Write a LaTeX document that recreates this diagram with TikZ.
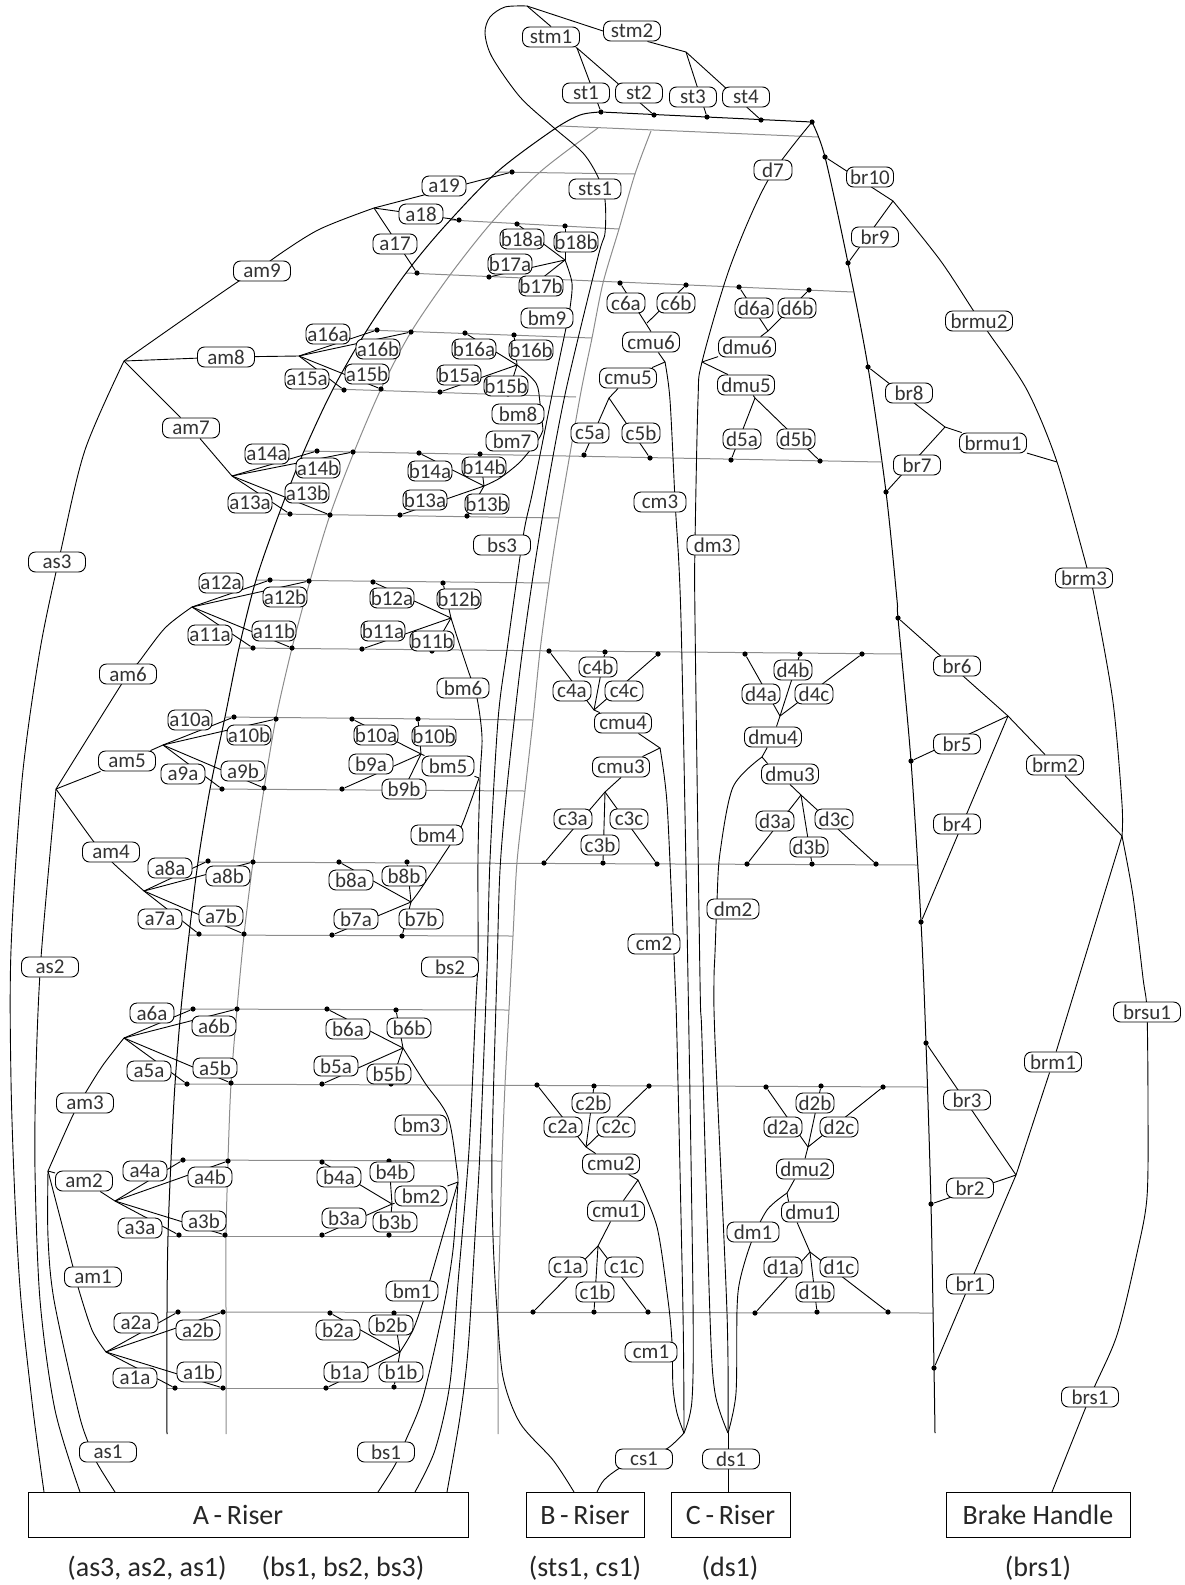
\documentclass[tikz,border=0pt]{standalone}
\usepackage{fontspec}
\setmainfont{Carlito}
\usetikzlibrary{backgrounds}
\tikzset{
  lbl/.style={draw,fill=white,rounded corners=3.5pt,line width=0.45pt,inner sep=0pt,minimum height=10pt,text=black!80,font=\fontsize{10.5}{11}\selectfont},
  pin/.style={circle,fill=black,inner sep=0pt,minimum size=2.6pt},
  wire/.style={line width=0.45pt,line join=round},
  main/.style={line width=0.5pt,line join=round},
  rowline/.style={line width=0.5pt,black!45},
  riser/.style={draw,line width=0.5pt,minimum height=22.5pt,inner sep=0pt,text=black!85,font=\fontsize{14}{16}\selectfont},
  captext/.style={inner sep=0pt,text=black!85,font=\fontsize{14}{16}\selectfont}
}
\begin{document}
\begin{tikzpicture}[x=0.5pt,y=-0.5pt]
\useasboundingbox (0,0) rectangle (1184,1585);
% junctions
\foreach \n/\x/\y in {jstm/527/6,jstm1/577/48,jstm2/686/52,jam/124/361,jam5/56/789,jam2/48/1171,
  ja17/374/208,jb18/565/260,ja16/299/356,jb16/517/365,ja14/232/476,jb14/484/486,
  ja12/192/607,jb12/451/618,ja10/163/745,jb10/421/754,ja8/144/891,jb8/411/902,
  ja6/124/1038,jb6/403/1048,ja4/115/1201,jb4/392/1204,ja2/106/1352,jb2/400/1352,
  jbm8/543/430,jbm5/479/778,jbm2/458/1182,
  jc6/647/323,jd6/768/331,jcmu6/665/362,jdmu6/702/362,jc5/609/398,jd5/755/398,
  jc4/594/710,jcmu4/660/748,jc3/605/792,jd4/780/716,jdmu4/762/757,jd3/801/795,
  jc2/586/1147,jcmu2/638/1180,jc1/598/1246,jd2/808/1147,jdmu2/787/1193,jd1/810/1252,
  jcs/684/1433,jds/728/1433,endbr/935/1433,jbot/597/1492,jhnd/1052/1492,
  jbr10/893/201,jbr8/945/427,jbrm/1057/462,jbr6/1008/716,jbrs/1122/836,jbr3/1016/1175}
  \coordinate (\n) at (\x,\y);
% points on the lines
\foreach \n/\x/\y in {st1/601/112,st2/654/115,st3/707/117,st4/761/120,d7/812/122,
  a19/512/172,a18/459/220,a17/417/273,b18a/517/224,b18b/565/226,b17a/489/277,b17b/541/279,
  a16a/377/330,a16b/411/332,b16a/465/333,b16b/514/335,a15a/344/390,a15b/381/389,b15a/440/392,b15b/508/394,
  a14a/317/451,a14b/353/452,b14a/419/453,b14b/480/454,a13a/290/514,a13b/330/515,b13a/400/515,b13b/467/516,
  a12a/270/580,a12b/309/581,b12a/373/582,b12b/443/583,a11a/253/648,a11b/292/648,b11a/362/649,b11b/432/651,
  a10a/234/717,a10b/276/719,b10a/352/719,b10b/418/719,a9a/222/789,a9b/264/788,b9a/342/789,b9b/404/789,
  a8a/208/861,a8b/253/862,b8a/339/862,b8b/407/862,a7a/199/934,a7b/244/934,b7a/332/935,b7b/402/936,
  a6a/193/1009,a6b/237/1009,b6a/327/1009,b6b/396/1010,a5a/187/1084,a5b/231/1083,b5a/322/1084,b5b/391/1084,
  a4a/183/1160,a4b/228/1161,b4a/322/1162,b4b/389/1161,a3a/179/1235,a3b/225/1235,b3a/322/1235,b3b/389/1235,
  a2a/178/1312,a2b/223/1312,b2a/330/1313,b2b/394/1313,a1a/175/1388,a1b/223/1388,b1a/326/1388,b1b/394/1387,
  c6a/620/283,c6b/686/285,d6a/739/287,d6b/809/290,c5a/584/455,c5b/650/458,d5a/731/460,d5b/820/461,
  c4a/549/651,c4b/605/652,c4c/658/654,d4a/745/654,d4b/800/654,d4c/862/654,
  c3a/544/863,c3b/603/863,c3c/657/864,d3a/747/864,d3b/812/864,d3c/876/864,
  c2a/537/1085,c2b/594/1086,c2c/649/1086,d2a/766/1087,d2b/821/1086,d2c/883/1087,
  c1a/533/1312,c1b/594/1312,c1c/648/1312,d1a/755/1313,d1b/817/1312,d1c/888/1312,
  br10/825/157,br9/848/263,br8/868/367,br7/886/492,br6/898/618,br5/911/761,br4/921/922,
  br3/926/1043,br2/931/1204,br1/934/1368}
  \node[pin] (\n-p) at (\x,\y) {};
% labels
\foreach \n/\x/\y in {a19/444/186,a18/421/214,a17/395/244,
  a16a/328/334,a16b/378/349,a15a/307/379,a15b/367/374,a14a/267/454,a14b/318/468,a13a/250/503,a13b/307/493,
  a12a/221/583,a12b/285/597,a11a/210/635,a11b/274/631,a10a/190/720,a10b/249/735,a9a/183/774,a9b/243/771,
  a8a/170/868,a8b/228/876,a7a/160/919,a7b/221/916,a6a/152/1013,a6b/214/1026,a5a/149/1071,a5b/215/1068,
  a4a/145/1171,a4b/210/1177,a3a/140/1228,a3b/204/1221,a2a/136/1323,a2b/198/1330,a1a/135/1378,a1b/199/1372,
  b18a/522/239,b18b/576/242,b17a/510/264,b17b/541/286,b16a/474/349,b16b/531/350,b15a/459/375,b15b/506/386,
  b14a/430/471,b14b/484/467,b13a/425/500,b13b/487/504,b12a/392/598,b12b/459/599,b11a/383/631,b11b/432/641,
  b10a/376/735,b10b/434/736,b9a/371/764,b9b/404/789,b8a/351/880,b8b/404/876,b7a/356/919,b7b/421/919,
  b6a/348/1029,b6b/409/1028,b5a/336/1066,b5b/389/1074,b4a/339/1177,b4b/392/1172,b3a/344/1218,b3b/395/1222,
  b2a/338/1330,b2b/391/1325,b1a/346/1372,b1b/401/1372}
  \node[lbl,minimum width=22pt] (\n) at (\x,\y) {\n};
\foreach \n/\x/\y in {d7/773/170,c6a/626/303,c6b/676/303,d6a/754/308,d6b/797/308,c5a/590/433,c5b/641/433,d5a/742/439,d5b/796/439,
  c4a/572/691,c4b/598/667,c4c/624/691,d4a/761/694,d4b/793/670,d4c/814/694,c3a/573/819,c3b/600/845,c3c/629/819,d3a/775/821,d3b/809/847,d3c/834/819,
  c2a/563/1127,c2b/591/1103,c2c/616/1127,d2a/783/1127,d2b/815/1103,d2c/839/1127,c1a/568/1267,c1b/595/1292,c1c/624/1267,d1a/783/1267,d1b/815/1292,d1c/839/1267}
  \node[lbl,minimum width=19pt] (\n) at (\x,\y) {\n};
\foreach \n/\x/\y in {stm1/551/37,stm2/632/31,as3/57/562,as2/50/967,as1/108/1452,bs3/502/545,bs2/450/967,bs1/386/1452,cs1/644/1459,ds1/731/1459,
  am9/262/271,am8/226/357,am7/191/428,am6/128/674,am5/127/761,am4/111/852,am3/85/1103,am2/84/1181,am1/93/1277,
  cmu6/651/342,cmu5/628/378,cmu4/623/723,cmu3/621/767,cmu2/611/1164,cmu1/616/1211,
  dmu6/747/347,dmu5/746/385,dmu4/773/737,dmu3/790/774,dmu2/805/1169,dmu1/810/1212,
  brm3/1084/578,brm2/1055/765,brm1/1053/1062,brs1/1090/1397}
  \node[lbl,minimum width=28.5pt] (\n) at (\x,\y) {\n};
\foreach \n/\x/\y in {sts1/595/189,bm9/547/318,bm8/518/414,bm7/512/441,bm6/463/688,bm5/448/766,bm4/437/835,bm3/421/1125,bm2/421/1196,bm1/412/1291,
  cm3/660/502,cm2/654/944,cm1/651/1352,dm3/713/545,dm2/733/909,dm1/753/1232}
  \node[lbl,minimum width=26pt] (\n) at (\x,\y) {\n};
\foreach \n/\x/\y in {st1/586/93,st2/639/93,st3/693/97,st4/746/97,br10/870/177,br9/875/237,br8/909/393,br7/917/465,br6/957/666,br5/957/744,br4/957/824,br3/967/1100,br2/970/1188,br1/970/1284}
  \node[lbl,minimum width=23.5pt] (\n) at (\x,\y) {\n};
\foreach \n/\x/\y in {brmu2/979/321,brmu1/993/443,brsu1/1147/1012}
  \node[lbl,minimum width=33.5pt] (\n) at (\x,\y) {\n};
% risers
\node[riser,minimum width=220pt] (ariser) at (248,1514.5) {A\,-\,Riser\kern10pt};
\node[riser,minimum width=59pt] (briser) at (585,1514.5) {B\,-\,Riser};
\node[riser,minimum width=59.5pt] (criser) at (730.5,1514.5) {C\,-\,Riser};
\node[riser,minimum width=92pt] (hriser) at (1038,1514.5) {Brake Handle};
\node[captext] (capa) at (147,1568) {(as3, as2, as1)};
\node[captext] (capb) at (343,1568) {(bs1, bs2, bs3)};
\node[captext] (capc) at (585,1568) {(sts1, cs1)};
\node[captext] (capd) at (730,1568) {(ds1)};
\node[captext] (cape) at (1038,1568) {(brs1)};
\begin{pgfonlayer}{background}
% grey rows and the two grey curves
\foreach \xa/\ya/\xb/\yb in {560/126/818/137,495/172/635/174,450/220/619/229,406/273/853/292,367/330/592/338,333/389/576/397,
  304/451/881/462,279/514/559/518,256/580/549/583,239/648/902/654,225/717/533/720,210/789/525/791,
  198/862/918/865,189/935/513/936,181/1009/509/1010,175/1084/927/1087,171/1160/502/1161,168/1236/500/1236,
  167/1312/933/1313,167/1388/498/1388}
  \draw[rowline] (\xa,\ya) -- (\xb,\yb);
\draw[rowline] plot[smooth] coordinates {(598,128) (540,172) (492,222) (450,275) (411,332) (381,389) (354,452) (330,515) (310,581) (292,648) (276,718) (264,789) (253,862) (244,935) (237,1009) (231,1084) (228,1160) (226,1236) (226,1312) (226,1434)};
\draw[rowline] plot[smooth] coordinates {(651,131) (635,174) (619,229) (603,283) (592,338) (580,397) (559,518) (549,583) (540,651) (533,720) (525,791) (517,862) (513,936) (509,1010) (505,1085) (502,1161) (500,1236) (498,1312) (498,1388) (498,1434)};
% leaves
\foreach \j/\g in {ja17/{a19,a18,a17},jb18/{b18a,b18b,b17a,b17b},ja16/{a16a,a16b,a15a,a15b},jb16/{b16a,b16b,b15a,b15b},
  ja14/{a14a,a14b,a13a,a13b},jb14/{b14a,b14b,b13a,b13b},ja12/{a12a,a12b,a11a,a11b},jb12/{b12a,b12b,b11a,b11b},
  ja10/{a10a,a10b,a9a,a9b},jb10/{b10a,b10b,b9a,b9b},ja8/{a8a,a8b,a7a,a7b},jb8/{b8a,b8b,b7a,b7b},
  ja6/{a6a,a6b,a5a,a5b},jb6/{b6a,b6b,b5a,b5b},ja4/{a4a,a4b,a3a,a3b},jb4/{b4a,b4b,b3a,b3b},
  ja2/{a2a,a2b,a1a,a1b},jb2/{b2a,b2b,b1a,b1b},
  jc5/{c5a,c5b},jd5/{d5a,d5b},jd6/{d6a,d6b},jc4/{c4a,c4b,c4c},jc3/{c3a,c3b,c3c},jc2/{c2a,c2b,c2c},jc1/{c1a,c1b,c1c},
  jd4/{d4a,d4b,d4c},jd3/{d3a,d3b,d3c},jd2/{d2a,d2b,d2c},jd1/{d1a,d1b,d1c},
  jbr10/{br10,br9},jbr8/{br8,br7},jbr6/{br6,br5,br4},jbr3/{br3,br2,br1},
  jstm1/{st1,st2},jstm2/{st3,st4}}
  \foreach \p in \g
    \draw[wire] (\j) -- (\p-p);
\draw[wire] (c6a-p) -- (cmu6.north);
\draw[wire] (c6b-p) -- (jc6);
% top of the canopy
\draw[main] (st1-p) -- (d7-p);
\draw[wire] (jstm) -- (stm1.north);
\draw[wire] (jstm) -- (stm2.west);
\draw[wire] (stm1) -- (jstm1);
\draw[wire] (stm2.326) -- (jstm2);
% cascades of the A and B side
\draw[wire] (jam) -- (am8) -- (ja16);
\draw[wire] (jam) -- (am7) -- (ja14);
\draw[wire] (jam5) -- (am5) -- (ja10);
\draw[wire] (jam2) -- (am2) -- (ja4);
\draw[wire] plot[smooth] coordinates {(jam) (239,281) (am9) (270,261) (318,230) (ja17)};
\draw[wire] plot[smooth] coordinates {(jam5) (128,674) (138,663) (165,628) (ja12)};
\draw[wire] plot[smooth] coordinates {(jam5) (94,842) (113,863) (ja8)};
\draw[wire] plot[smooth] coordinates {(jam2) (73,1115) (86,1092) (103,1065) (ja6)};
\draw[wire] plot[smooth] coordinates {(jam2) (73,1267) (78,1287) (92,1330) (ja2)};
\draw[wire] plot[smooth] coordinates {(jam) (85,450) (61,550) (40,650) (22,780) (11,950) (11,1080) (15,1200) (21,1300) (33,1410) (44,1492)};
\draw[wire] plot[smooth] coordinates {(jam5) (41,958) (36,1070) (35,1170) (40,1300) (55,1410) (80,1492)};
\draw[wire] plot[smooth] coordinates {(jam2) (48,1237) (54,1300) (78,1410) (88,1442) (97,1463) (115,1492)};
\draw[main] plot[smooth] coordinates {(st1-p) (580,115) (553,130) (497,172) (444,227) (406,273) (367,330) (333,389) (304,451) (279,514) (256,580) (239,648) (225,717) (210,789) (198,862) (189,935) (181,1009) (175,1084) (171,1160) (168,1236) (167,1312) (167,1434)};
\draw[wire] (jb10) -- (bm5) -- (jbm5);
\draw[wire] (jb4) -- (bm2) -- (jbm2);
\draw[wire] plot[smooth] coordinates {(jb16) (536,383) (540,403) (jbm8)};
\draw[wire] plot[smooth] coordinates {(jb14) (500,478) (520,462) (538,440) (jbm8)};
\draw[wire] plot[smooth] coordinates {(jbm5) (462,825) (450,845) (420,890) (jb8)};
\draw[wire] plot[smooth] coordinates {(jb6) (425,1083) (448,1117) (457,1170) (jbm2)};
\draw[wire] plot[smooth] coordinates {(jbm2) (430,1280) (423,1302) (413,1330) (jb2)};
\draw[wire] plot[smooth] coordinates {(jbm2) (453,1250) (443,1310) (423,1397) (405,1442) (395,1465) (378,1492)};
\draw[wire] plot[smooth] coordinates {(jb12) (459,643) (468,670) (477,698) (482,737) (480,778) (478,857) (478,957) (476,1000) (469,1150) (458,1283) (450,1383) (435,1450) (415,1492)};
\draw[wire] plot[smooth] coordinates {(jb18) (572,283) (570,308) (566,328) (553,390) (533,490) (523,537) (507,650) (498,720) (490,860) (487,970) (480,1150) (475,1237) (468,1350) (460,1417) (447,1492)};
\draw[wire] plot[smooth] coordinates {(jstm) (505,7) (490,17) (485,33) (492,57) (520,97) (553,127) (583,153) (598,177) (605,200) (605,233) (598,257) (566,390) (547,490) (532,583) (520,670) (507,787) (500,870) (497,970) (492,1150) (493,1237) (497,1310) (503,1377) (520,1423) (553,1460) (574,1492)};
% C and D side
\draw[wire] (jd6) -- (dmu6) -- (jdmu6);
\draw[wire] (dmu5.150) -- (jdmu6);
\draw[wire] (cmu6) -- (jcmu6) -- (cmu5) -- (jc5);
\draw[wire] (dmu5) -- (jd5);
\draw[wire] (jc4) -- (cmu4) -- (jcmu4) -- (cmu3);
\draw[wire] (cmu3.south) -- (jc3);
\draw[wire] (jd4) -- (dmu4) -- (jdmu4) -- (dmu3.155);
\draw[wire] (dmu3.south) -- (jd3);
\draw[wire] (jc2) -- (cmu2) -- (jcmu2) -- (cmu1) -- (jc1);
\draw[wire] (jd2) -- (dmu2.north);
\draw[wire] (dmu2.225) -- (jdmu2) -- (dmu1.154);
\draw[wire] (dmu1.219) -- (jd1);
\draw[wire] plot[smooth] coordinates {(jcmu6) (670,400) (675,500) (681,620) (688,980) (693,1300) (692,1400) (jcs)};
\draw[wire] plot[smooth] coordinates {(jcmu4) (667,803) (673,933) (675,980) (677,1040) (683,1313) (jcs)};
\draw[wire] plot[smooth] coordinates {(jcmu2) (657,1227) (668,1300) (672,1342) (673,1387) (677,1413) (jcs)};
\draw[wire] plot[smooth] coordinates {(jcs) (668,1448) (644,1459) (620,1468) (604,1480) (jbot)};
\draw[wire] plot[smooth] coordinates {(d7-p) (767,182) (730,267) (jdmu6) (698,400) (695,545) (695,620) (700,980) (702,1040) (710,1317) (715,1393) (jds)};
\draw[wire] plot[smooth] coordinates {(jdmu4) (733,787) (720,853) (717,900) (715,953) (714,980) (715,1040) (727,1313) (jds)};
\draw[wire] plot[smooth] coordinates {(jdmu2) (767,1210) (751,1243) (740,1280) (737,1310) (736,1393) (jds)};
\draw[wire] (jds) -- (jds |- criser.north);
% brake lines
\draw[main] plot[smooth] coordinates {(d7-p) (br10-p) (br9-p) (br8-p) (br7-p) (897,600) (br6-p) (br5-p) (br4-p) (br3-p) (br2-p) (br1-p) (endbr)};
\draw[wire] (jbr8) -- (brmu1) -- (jbrm);
\draw[wire] (jbr6) -- (brm2) -- (jbrs);
\draw[wire] (jbr3) -- (brm1) -- (jbrs);
\draw[wire] plot[smooth] coordinates {(jbr10) (940,260) (973,310) (988,332) (1027,390) (jbrm) (1087,568) (1095,600) (1113,702) (1122,804) (jbrs)};
\draw[wire] plot[smooth] coordinates {(jbrs) (1133,896) (1143,978) (1147,1012) (1148,1110) (1147,1197) (1137,1253) (1117,1335) (1090,1397) (jhnd)};
\end{pgfonlayer}
\end{tikzpicture}
\end{document}
